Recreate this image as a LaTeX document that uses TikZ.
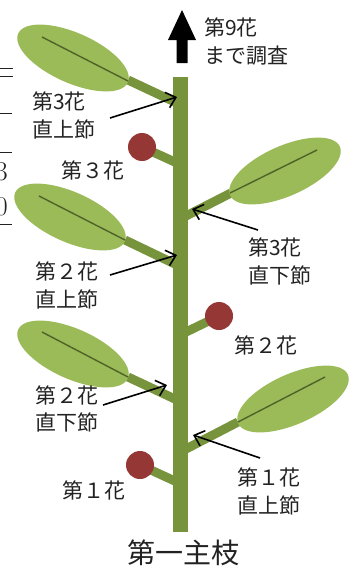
\documentclass[tikz,border=0pt]{standalone}
\usepackage{fontspec}
\newfontfamily\jp{Noto Sans CJK JP}
\usetikzlibrary{arrows.meta}
\definecolor{stemgreen}{HTML}{77933C}
\definecolor{leafgreen}{HTML}{9BBB59}
\definecolor{ribgreen}{HTML}{4F6228}
\definecolor{flowerred}{HTML}{953735}
\definecolor{ink}{HTML}{222222}

\begin{document}
\begin{tikzpicture}[x=1pt,y=-1pt,
  lbl/.style={font=\jp\fontsize{21}{27.5}\selectfont, align=left, anchor=west, inner sep=0pt, text=ink},
  ptr/.style={-{Straight Barb[length=9pt,width=16pt]}, line width=1.6pt, draw=black},
  branch/.style={draw=stemgreen, line width=9pt},
  leaf/.style={fill=leafgreen},
  rib/.style={draw=ribgreen, line width=1.4pt},
  bud/.style={circle, fill=flowerred, minimum size=28pt, inner sep=0pt},
  edgemark/.style={draw=ink, line width=1pt},
  edgedigit/.style={font=\fontsize{27}{27}\selectfont, anchor=east, inner sep=0pt, text=ink},
]
\useasboundingbox (0,0) rectangle (358,570);

% cut-off marks along the left margin
\draw[edgemark] (0,68.5) -- (12.5,68.5);
\draw[edgemark] (0,76) -- (12.5,76);
\draw[edgemark] (0,113) -- (12,113);
\draw[edgemark] (0,152) -- (12,152);
\node[edgedigit] (cut3) at (8,172) {3};
\node[edgedigit] (cut0) at (8,207) {0};
\draw[edgemark] (0,224) -- (12,224);

% branches (drawn under the main stem)
\draw[branch] (177,103) -- (128,80);   % leaf 1
\draw[branch] (184,217) -- (231,193);  % leaf 2
\draw[branch] (177,265) -- (125,240);  % leaf 3
\draw[branch] (177,400) -- (128,377);  % leaf 4
\draw[branch] (184,450) -- (238,422);  % leaf 5
\draw[branch] (177,163) -- (142,147);  % flower 3
\draw[branch] (184,333) -- (219,316);  % flower 2
\draw[branch] (177,482) -- (140,465);  % flower 1

% leaves with midribs
\fill[leaf, rotate around={-24:(73,58)}] (73,58) ellipse (60pt and 25pt);
\draw[rib] (42,37) -- (128,81);
\fill[leaf, rotate around={24:(285,171)}] (285,171) ellipse (60pt and 25pt);
\draw[rib] (230,193) -- (317,150);
\fill[leaf, rotate around={-24:(70,217)}] (70,217) ellipse (60pt and 25pt);
\draw[rib] (39,196) -- (125,240);
\fill[leaf, rotate around={-24:(73,354)}] (73,354) ellipse (60pt and 25pt);
\draw[rib] (42,332) -- (128,377);
\fill[leaf, rotate around={24:(293,399)}] (293,399) ellipse (60pt and 25pt);
\draw[rib] (238,422) -- (325,377);

% main stem
\fill[stemgreen] (173,77) rectangle (188,532);

% flowers
\node[bud] (f3) at (142,147) {};
\node[bud] (f2) at (219,316) {};
\node[bud] (f1) at (140,465) {};

% upward arrow at the stem tip
\fill[black] (176.5,63) -- (176.5,40) -- (168,40) -- (182,10) -- (196,40)
  -- (187.5,40) -- (187.5,63) -- cycle;
\node[lbl] (top) at (204,41.5) {第9花\\まで調査};

% node labels and pointers
\node[lbl] (n3u) at (32,115.5) {第3花\\直上節};
\coordinate (n3us) at (110,118);
\coordinate (n3ut) at (177,97);
\draw[ptr] (n3us) -- (n3ut);

\node[lbl] (n3d) at (248,261.5) {第3花\\直下節};
\coordinate (n3ds) at (258,230);
\coordinate (n3dt) at (192,209);
\draw[ptr] (n3ds) -- (n3dt);

\node[lbl] (n2u) at (35,285.5) {第２花\\直上節};
\coordinate (n2us) at (110,275);
\coordinate (n2ut) at (177,255);
\draw[ptr] (n2us) -- (n2ut);

\node[lbl] (n2d) at (35,409) {第２花\\直下節};
\coordinate (n2ds) at (103,405);
\coordinate (n2dt) at (167,385);
\draw[ptr] (n2ds) -- (n2dt);

\node[lbl] (n1u) at (237,491.5) {第１花\\直上節};
\coordinate (n1us) at (260,458);
\coordinate (n1ut) at (193,435);
\draw[ptr] (n1us) -- (n1ut);

% flower labels
\node[lbl, anchor=center] (l3) at (93,170) {第３花};
\node[lbl, anchor=center] (l2) at (266,345) {第２花};
\node[lbl, anchor=center] (l1) at (94,490) {第１花};

% caption
\node[font=\jp\fontsize{28}{28}\selectfont, text=ink, inner sep=0pt] (cap) at (183,553) {第一主枝};
\end{tikzpicture}
\end{document}
